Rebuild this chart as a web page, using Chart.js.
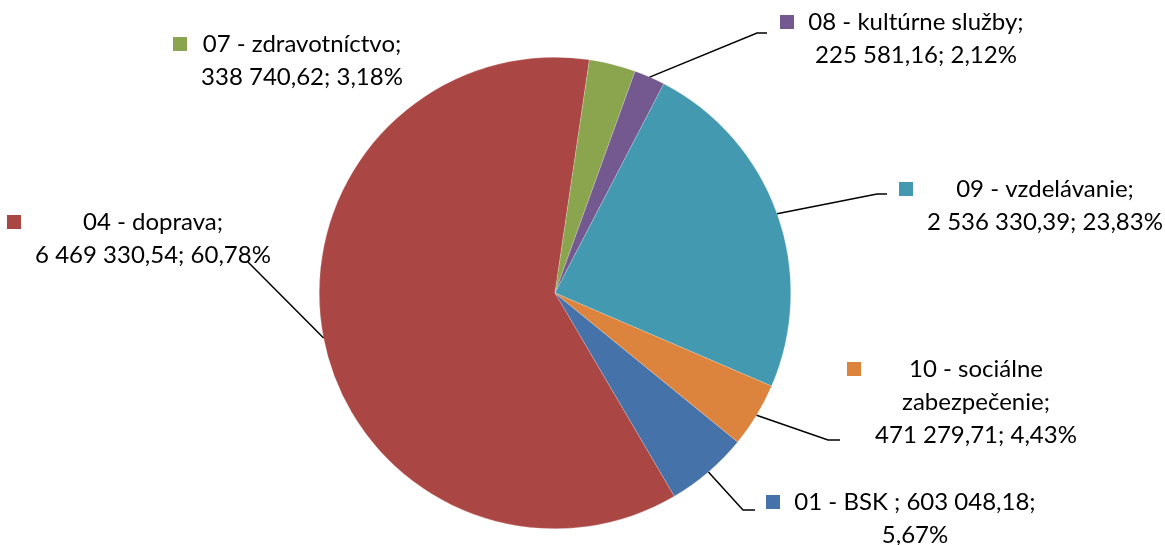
<!DOCTYPE html>
<html>
<head>
<meta charset="utf-8">
<script src="https://cdn.jsdelivr.net/npm/chart.js@4"></script>
<style>
  html, body { margin: 0; padding: 0; background: #fff; }
  #wrap { width: 1165px; height: 545px; position: relative; }
</style>
</head>
<body>
<div id="wrap"><canvas id="pieChart" width="1165" height="545"></canvas></div>
<script>
// data
const categories = ['01 - BSK ', '04 - doprava', '07 - zdravotníctvo', '08 - kultúrne služby', '09 - vzdelávanie', '10 - sociálne zabezpečenie'];
const amounts = [603048.18, 6469330.54, 338740.62, 225581.16, 2536330.39, 471279.71];
const amountLabels = ['603 048,18', '6 469 330,54', '338 740,62', '225 581,16', '2 536 330,39', '471 279,71'];
const percentLabels = ['5,67%', '60,78%', '3,18%', '2,12%', '23,83%', '4,43%'];

const colors = ['#4572A8', '#AA4644', '#8BA54F', '#73598F', '#4299B0', '#DC843D'];

// where each data label sits: text center x, first line y, wrap width, leader elbow / end
const labelLayout = [
  { cx: 915, y: 502, maxW: 262, elbow: [743, 510], end: [755, 510] },
  { cx: 153, y: 222, maxW: 245, elbow: null, end: [248, 262] },
  { cx: 302, y: 44, maxW: 215, elbow: null, end: null },
  { cx: 916, y: 22, maxW: 225, elbow: [757, 33], end: [767, 33] },
  { cx: 1045, y: 189, maxW: 240, elbow: [877, 194], end: [887, 194] },
  { cx: 976, y: 369, maxW: 205, elbow: [828, 440], end: [840, 440] }
];

const labelFont = '24px Lato';
const lineHeight = 33;

function wrapLabel(ctx, i, maxW) {
  const words = categories[i].split(' ');
  words[words.length - 1] += ';';
  const tokens = words.concat([amountLabels[i] + ';', percentLabels[i]]);
  const lines = [];
  let cur = '';
  tokens.forEach(t => {
    const test = cur === '' ? t : cur + ' ' + t;
    if (cur !== '' && ctx.measureText(test).width > maxW) {
      lines.push(cur);
      cur = t;
    } else {
      cur = test;
    }
  });
  if (cur !== '') lines.push(cur);
  return lines;
}

const labelPlugin = {
  id: 'pieLabels',
  afterDatasetsDraw(chart) {
    const ctx = chart.ctx;
    const meta = chart.getDatasetMeta(0);
    ctx.save();
    ctx.font = labelFont;
    meta.data.forEach((arc, i) => {
      const L = labelLayout[i];
      // leader line
      if (L.end) {
        const mid = (arc.startAngle + arc.endAngle) / 2;
        ctx.beginPath();
        ctx.moveTo(arc.x + Math.cos(mid) * arc.outerRadius, arc.y + Math.sin(mid) * arc.outerRadius);
        if (L.elbow) ctx.lineTo(L.elbow[0], L.elbow[1]);
        ctx.lineTo(L.end[0], L.end[1]);
        ctx.strokeStyle = '#000';
        ctx.lineWidth = 1.5;
        ctx.stroke();
      }
      // text
      const lines = wrapLabel(ctx, i, L.maxW);
      const blockW = Math.max(...lines.map(l => ctx.measureText(l).width));
      ctx.fillStyle = '#000';
      ctx.textAlign = 'center';
      ctx.textBaseline = 'middle';
      lines.forEach((l, k) => ctx.fillText(l, L.cx, L.y + k * lineHeight));
      // legend key
      ctx.fillStyle = colors[i];
      ctx.fillRect(Math.round(L.cx - blockW / 2 - 28), L.y - 7, 14, 14);
    });
    ctx.restore();
  }
};

new Chart(document.getElementById('pieChart'), {
  type: 'pie',
  data: {
    labels: categories,
    datasets: [{
      data: amounts,
      backgroundColor: colors,
      borderColor: 'rgba(255,255,255,0.4)',
      borderWidth: 0.5
    }]
  },
  options: {
    responsive: false,
    animation: false,
    rotation: 129.2,
    layout: { padding: { top: 57, bottom: 16, left: 319, right: 374 } },
    plugins: {
      legend: { display: false },
      tooltip: { enabled: false }
    }
  },
  plugins: [labelPlugin]
});
</script>
</body>
</html>
